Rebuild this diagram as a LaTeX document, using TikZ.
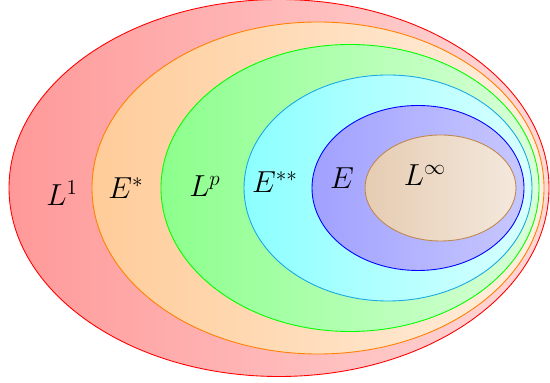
\documentclass[tikz,border=0pt]{standalone}
\usepackage{amsmath,amssymb}
\usepackage{tikz}
\definecolor{cyanline}{HTML}{18A8E6}
\definecolor{brownline}{HTML}{C08850}
\tikzset{
  spc/.style={line width=0.5pt},
  lab/.style={font=\LARGE, inner sep=1pt}}

\begin{document}
\begin{tikzpicture}
    \useasboundingbox (0,0) rectangle (11,7.66);
    % nested spaces, outermost first
    \foreach \c/\d/\x/\rx/\ry/\lf/\rt in {
        red/red/5.58/5.40/3.77/40/15,
        orange/orange/6.36/4.52/3.32/40/12,
        green/green/7.00/3.78/2.87/45/15,
        cyan/cyanline/7.76/2.88/2.26/45/15,
        blue/blue/8.36/2.12/1.65/37/22,
        brown/brownline/8.81/1.51/1.06/40/18}
      \draw[spc, draw=\d, left color=\c!\lf, right color=\c!\rt]
        (\x,3.9) ellipse ({\rx} and {\ry});
    \node[lab] (lone)  at (1.24,3.80) {$L^1$};
    \node[lab] (estar) at (2.52,3.90) {$E^*$};
    \node[lab] (lp)    at (4.10,3.94) {$L^p$};
    \node[lab] (ess)   at (5.50,4.02) {$E^{**}$};
    \node[lab] (e)     at (6.84,4.10) {$E$};
    \node[lab] (linf)  at (8.50,4.16) {$L^\infty$};
\end{tikzpicture}
\end{document}
